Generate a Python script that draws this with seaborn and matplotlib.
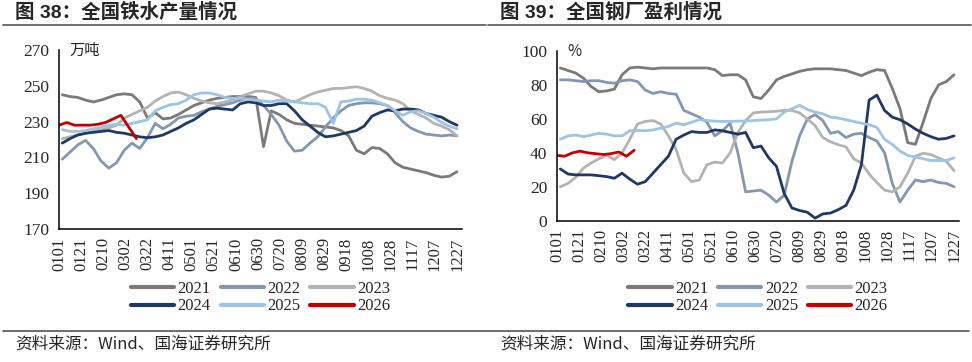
import numpy as np
import pandas as pd
import matplotlib
matplotlib.use("Agg")
import matplotlib.pyplot as plt
from matplotlib.lines import Line2D
import seaborn as sns

# x axis labels (every 20 days, MMDD)
tick_labels = ['0101', '0121', '0210', '0302', '0322', '0411', '0501', '0521', '0610', '0630',
               '0720', '0809', '0829', '0918', '1008', '1028', '1117', '1207', '1227']
years = ['2021', '2022', '2023', '2024', '2025', '2026']
colors = ['#7a7a7a', '#8497b0', '#b3b3b3', '#1f3864', '#9dc3e6', '#c00000']

# Fig 38: hot metal output, 10k tonnes (weekly)
iron_2021 = [245, 244, 243.5, 242, 241, 242, 243.5, 245, 245.5, 245, 241, 232, 235,
             231.5, 232, 234, 236.5, 239, 240.5, 242, 243, 243.5, 244, 244, 244, 243.5,
             216, 236, 234, 231, 229, 228.5, 228, 227.5, 227, 226.5, 225, 222, 214,
             212, 215.5, 215, 212, 207, 204.5, 203.5, 202.5, 201.5, 200, 199, 199.5, 202]
iron_2022 = [209, 213, 217, 219.5, 215, 208, 204, 207, 214, 218, 215, 221, 229,
             226, 228.5, 232, 233, 233.5, 235.5, 237, 238.5, 239.5, 240.5, 242, 243, 243,
             239, 234, 228, 219, 213.5, 214, 218, 221.5, 227, 232, 236, 239, 240,
             240.5, 240.5, 240, 239, 235, 230, 226.5, 224.5, 223, 222.5, 222, 222.5, 222]
iron_2023 = [220.5, 221.5, 222.5, 223.5, 224.5, 225.5, 226.5, 228, 232, 234, 236, 238, 241.5,
             244, 246, 246.5, 245, 243, 241.5, 240.5, 240, 241, 242, 244, 245.5, 247,
             247, 246, 244.5, 242, 241, 243, 245, 246.5, 247.5, 248.5, 248.5, 249, 249.5,
             248.5, 247, 244.5, 243, 242, 240, 236, 234, 232, 229, 227.5, 225.5, 222]
iron_2024 = [218, 220.5, 222.5, 223.5, 224, 224.5, 225, 224, 223.5, 222.5, 221.5, 221, 221.5,
             222.5, 224.5, 226.5, 229, 231, 234, 237, 237.5, 237, 236.5, 240, 241, 240.5,
             239, 239, 240, 240, 236, 231, 227.5, 224, 221.5, 222, 223, 224, 225,
             227.5, 233, 235, 236.5, 236, 237, 237, 236.5, 234.5, 233.5, 232.5, 230, 228]
iron_2025 = [225.5, 224.5, 224.5, 225, 226, 227, 228, 228.5, 228, 229, 230, 231, 236,
             238, 239.5, 240, 242, 245, 246, 246, 245, 243.5, 243, 243, 242.5, 242,
             241.5, 241, 242, 241.5, 241, 240.5, 240, 240, 238, 229, 241, 241.5, 242.5,
             242.5, 242, 240.5, 239, 236, 233.5, 235.5, 236, 234.5, 232.5, 229.5, 227.5, 226]
iron_2026 = [228, 229.5, 228, 228, 228, 228.5, 229.5, 231.5, 233.5, 227, 220.5]

# Fig 39: steel mill profitability, % (weekly)
profit_2021 = [90, 88.5, 87, 84, 79, 76, 76.5, 77.5, 86, 90, 90.5, 90, 89.5,
               90, 90, 90, 90, 90, 90, 90, 89, 85.5, 86, 86, 83, 73,
               72, 77, 83, 85, 86.5, 88, 89, 89.5, 89.5, 89.5, 89, 88.5, 87,
               85.5, 87.5, 89, 88.5, 78, 66, 46, 45, 58, 72, 80, 82, 86]
profit_2022 = [83, 83, 82.5, 82, 82.5, 82.5, 81.5, 81, 82.5, 83, 82, 77, 75,
               76, 75, 74.5, 65, 63, 61, 58, 50, 53, 57.5, 40, 17, 17.5,
               18, 15, 11, 15, 35, 50, 60, 62.5, 59, 51.5, 52.5, 49, 51,
               51.5, 49, 47, 40, 22, 11, 18, 24, 23, 24, 22.5, 22, 20]
profit_2023 = [20, 22, 25.5, 31, 34, 36.5, 38.5, 36, 40, 48, 57, 58.5, 59,
               57, 50, 42, 28, 23, 24, 33, 34.5, 34, 40, 52, 59, 63.5,
               64, 64.2, 64.5, 65, 65, 63.5, 60, 56, 49, 46.5, 44.8, 43.5, 36.5,
               34, 27.5, 22.5, 18, 17, 20, 28, 38, 39.7, 39, 37, 35, 29.5]
profit_2024 = [30.5, 27.5, 27, 27, 27, 26.5, 26, 25, 28, 24.5, 21.5, 23, 28,
               33, 38, 48, 50.5, 52.5, 52, 52, 53.5, 53, 52, 51, 52, 43,
               44, 37, 32, 16, 7.5, 6, 5, 1.5, 4, 4.5, 6.5, 9, 18,
               33, 71, 74, 65, 61, 59.5, 57, 54, 51.5, 49.5, 48, 48.5, 50]
profit_2025 = [48, 50, 50.5, 49.5, 50.5, 51.5, 51, 50, 50, 53, 53.2, 53, 53.5,
               54.5, 55.5, 57.5, 56.5, 58, 59.5, 59, 58.7, 58.5, 58.5, 58.7, 58.7, 59,
               59.3, 59.5, 60, 64, 66, 68, 65.5, 64, 63, 61, 60.5, 59.5, 58.5,
               57.5, 56.5, 55, 48, 45, 41, 38.5, 37.5, 36.5, 35.5, 35.5, 35.5, 37]
profit_2026 = [38.5, 38, 40, 41, 40, 39.5, 39, 39.5, 40.5, 38, 41.5]


def to_long(series_list):
    """Weekly values -> long frame keyed by day-of-year"""
    rows = []
    for year, vals in zip(years, series_list):
        start = 0 if year == '2026' else 3
        for i, v in enumerate(vals):
            rows.append({'day': start + 7 * i, 'value': v, 'year': year})
    return pd.DataFrame(rows)


sns.set_style('white')
plt.rcParams['font.family'] = ['Liberation Serif', 'Noto Sans CJK SC']
plt.rcParams['axes.linewidth'] = 1.1

W, H = 972, 362
fig = plt.figure(figsize=(W / 100, H / 100), dpi=100)
palette = dict(zip(years, colors))

panels = [
    dict(df=to_long([iron_2021, iron_2022, iron_2023, iron_2024, iron_2025, iron_2026]),
         rect=[59 / W, 1 - 229 / H, 403 / W, 179 / H], ylim=(170, 270), yticks=np.arange(170, 271, 20),
         unit='万吨', title='图 38：全国铁水产量情况', tx=15),
    dict(df=to_long([profit_2021, profit_2022, profit_2023, profit_2024, profit_2025, profit_2026]),
         rect=[557 / W, 1 - 220.7 / H, 402 / W, 169.7 / H], ylim=(0, 100), yticks=np.arange(0, 101, 20),
         unit='%', title='图 39：全国钢厂盈利情况', tx=500),
]

for p in panels:
    ax = fig.add_axes(p['rect'])
    sns.lineplot(data=p['df'], x='day', y='value', hue='year', palette=palette,
                 linewidth=2.0, legend=False, ax=ax)
    ax.set_xlim(0, 364.5)
    ax.set_ylim(*p['ylim'])
    ax.set_xticks(np.arange(0, 361, 20))
    ax.set_xticklabels(tick_labels, rotation=90)
    ax.set_yticks(p['yticks'])
    ax.set_xlabel('')
    ax.set_ylabel('')
    for s in ['top', 'right']:
        ax.spines[s].set_visible(False)
    for s in ['left', 'bottom']:
        ax.spines[s].set_color('black')
    ax.tick_params(axis='x', direction='in', length=5, width=1, labelsize=12, pad=6)
    ax.tick_params(axis='y', direction='in', length=4, width=1, labelsize=12.5, pad=7)
    ax.text(0.025, 1.0, p['unit'], transform=ax.transAxes, fontsize=11,
            family=['Noto Sans CJK SC'], va='center', ha='left')

    # legend below the axes, row-wise order
    handles = [Line2D([], [], color=c, lw=3) for c in colors]
    order = [0, 3, 1, 4, 2, 5]
    cx = (p['rect'][0] + p['rect'][2] / 2)
    fig.legend([handles[i] for i in order], [years[i] for i in order], ncol=3,
               loc='center', bbox_to_anchor=(cx, 1 - 297.5 / H), frameon=False,
               fontsize=12, handlelength=2.6, handletextpad=0.2, columnspacing=0.6,
               labelspacing=0.1, borderpad=0)

    # heading and rule lines
    fig.text(p['tx'] / W, 1 - 12 / H, p['title'], fontsize=14, fontweight='bold',
             family=['Liberation Sans', 'Noto Sans CJK SC'], va='center', ha='left')
    x0 = (p['tx'] - 12) / W
    fig.add_artist(Line2D([x0, x0 + 483 / W], [1 - 24.5 / H] * 2, color='#555555', lw=1.2))
    fig.text(p['tx'] / W, 1 - 344 / H, '资料来源：Wind、国海证券研究所', fontsize=12,
             family=['Noto Sans CJK SC'], va='center', ha='left')

fig.add_artist(Line2D([3 / W, 969 / W], [1 - 331 / H] * 2, color='#555555', lw=1.2))

fig.savefig('out.png', dpi=100, facecolor='white')
